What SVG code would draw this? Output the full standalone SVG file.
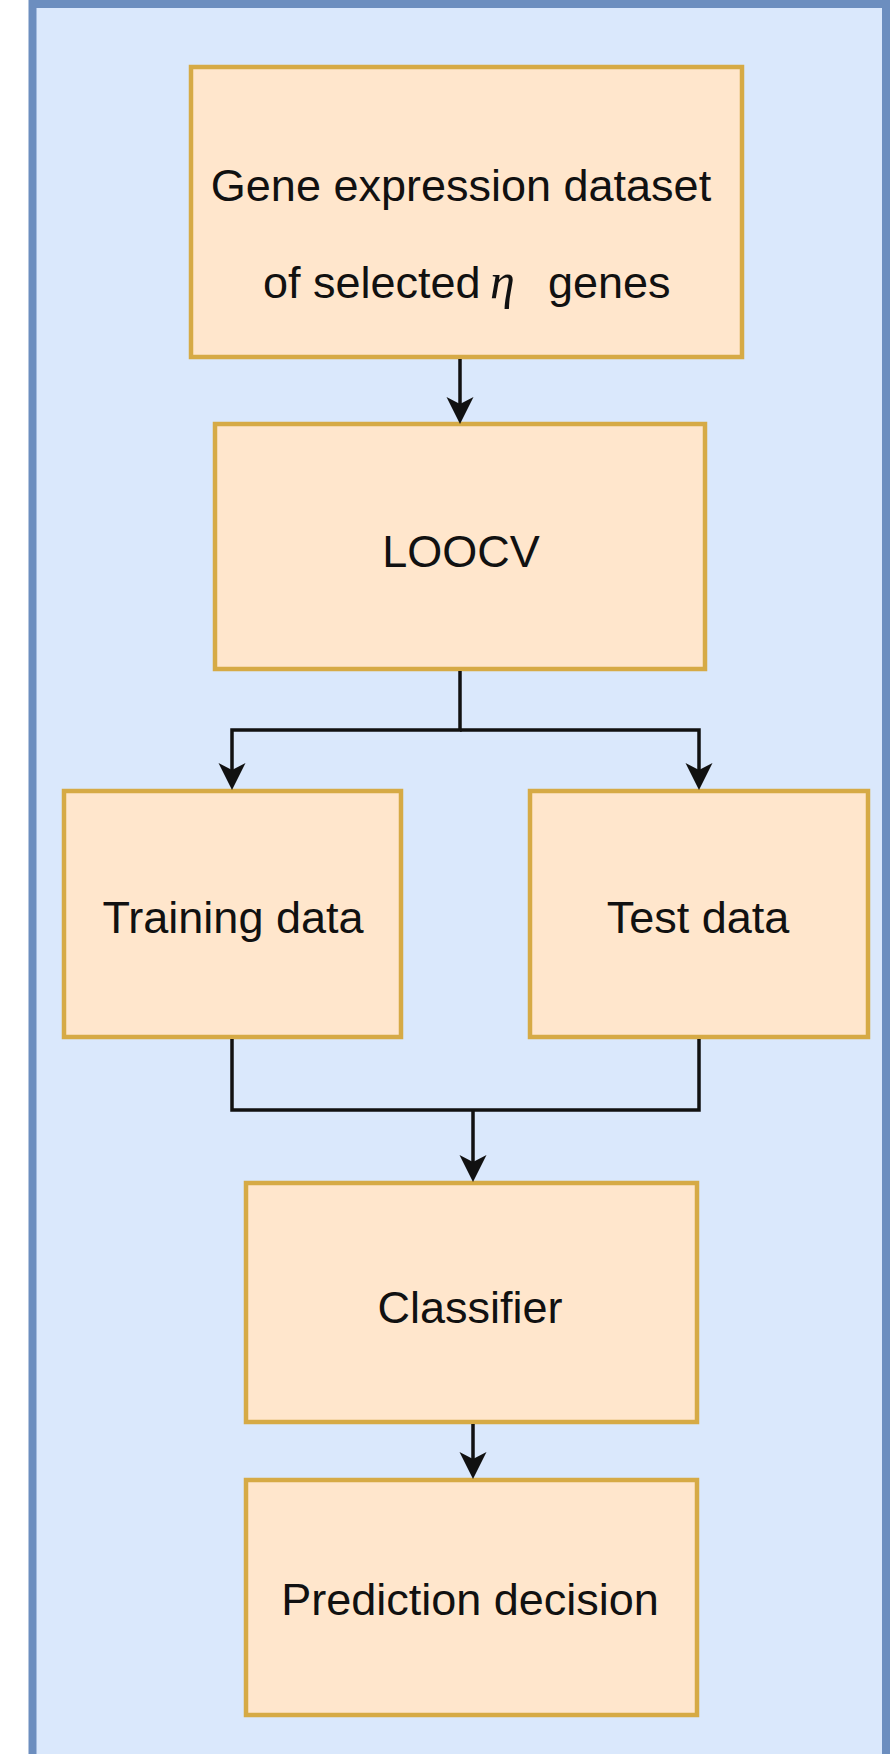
<svg xmlns="http://www.w3.org/2000/svg" width="893" height="1754" viewBox="0 0 893 1754">
  <style>
    .node rect { fill: #ffe6cc; stroke: #d6aa45; stroke-width: 4.5; }
    .node text { font-family: "Liberation Sans", Arial, sans-serif; font-size: 45px; fill: #111; text-anchor: middle; }
    .node text.eta { font-family: "Liberation Serif", "Times New Roman", serif; font-style: italic; font-size: 50px; text-anchor: start; }
    .node text.left { text-anchor: start; }
    .wire { fill: none; stroke: #111; stroke-width: 3.5; }
  </style>
  <defs>
    <marker id="arrow" viewBox="0 -14 27 28" refX="7" refY="0" markerWidth="27" markerHeight="28" markerUnits="userSpaceOnUse" orient="auto">
      <path d="M0,-13.5 L27,0 L0,13.5 L7,0 Z" fill="#111"/>
    </marker>
  </defs>

  <rect width="893" height="1754" fill="#ffffff"/>

  <!-- outer container -->
  <g id="container">
    <rect x="32.5" y="4" width="853.5" height="1756" fill="#dae8fc" stroke="#6c8ebf" stroke-width="8"/>
  </g>

  <g id="dataset" class="node">
    <rect x="191" y="67" width="551" height="290"/>
    <text x="461" y="201">Gene expression dataset</text>
    <text class="left" x="263" y="298">of selected</text>
    <text class="eta" x="490" y="298">η</text>
    <text class="left" x="548" y="298">genes</text>
  </g>

  <g id="loocv" class="node">
    <rect x="215" y="424" width="490" height="245"/>
    <text x="461" y="567">LOOCV</text>
  </g>

  <g id="training" class="node">
    <rect x="64" y="791" width="337" height="246"/>
    <text x="233" y="933">Training data</text>
  </g>

  <g id="test" class="node">
    <rect x="530" y="791" width="338" height="246"/>
    <text x="698" y="933">Test data</text>
  </g>

  <g id="classifier" class="node">
    <rect x="246" y="1183" width="451" height="239"/>
    <text x="470" y="1323">Classifier</text>
  </g>

  <g id="prediction" class="node">
    <rect x="246" y="1480" width="451" height="235"/>
    <text x="470" y="1615">Prediction decision</text>
  </g>

  <g id="connectors">
    <path class="wire" d="M460,359 V404" marker-end="url(#arrow)"/>
    <path class="wire" d="M460,671 V730 H232 V770" marker-end="url(#arrow)"/>
    <path class="wire" d="M460,730 H699 V770" marker-end="url(#arrow)"/>
    <path class="wire" d="M232,1039 V1110 H699 V1039"/>
    <path class="wire" d="M473,1110 V1162" marker-end="url(#arrow)"/>
    <path class="wire" d="M473,1424 V1459" marker-end="url(#arrow)"/>
  </g>
</svg>
